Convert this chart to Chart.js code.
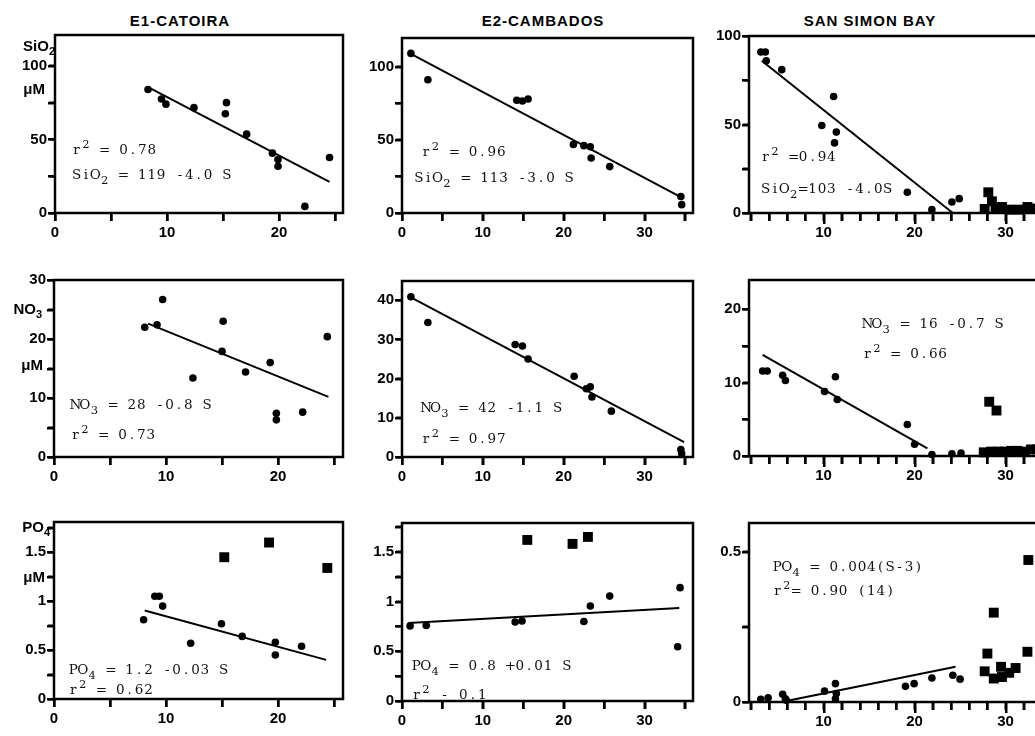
<!DOCTYPE html>
<html>
<head>
<meta charset="utf-8">
<script src="https://cdn.jsdelivr.net/npm/chart.js@4.4.0/dist/chart.umd.min.js"></script>
<style>
  html, body { margin: 0; background: #fff; overflow: hidden; width: 1035px; height: 736px; }
  body { position: relative; }
  canvas { position: absolute; }
  #ticks { left: 0; top: 0; z-index: 5; pointer-events: none; }
  .title { position: absolute; top: 12px; font: bold 15px "Liberation Sans", Arial, sans-serif; letter-spacing: 1px; transform: translateX(-50%); white-space: nowrap; color: #000; }
</style>
</head>
<body>
<div class="title" style="left:180px">E1-CATOIRA</div>
<div class="title" style="left:543px">E2-CAMBADOS</div>
<div class="title" style="left:870px">SAN SIMON BAY</div>
<canvas id="ticks" width="1035" height="736"></canvas>
<script>
// salinity (S) and concentration values

// E1-Catoira
const catSiS = [8.3, 9.5, 9.9, 12.4, 15.2, 15.3, 17.1, 19.4, 19.9, 19.9, 22.3, 24.5];
const catSiV = [84, 77.5, 74, 71.6, 67.5, 75, 53.6, 40.7, 36.4, 31.8, 4.5, 37.7];
const catSiFitS = [8.3, 24.5];
const catSiFitV = [85.5, 21.1];

const catNS = [8.1, 9.2, 9.7, 12.4, 15.1, 15.0, 17.1, 19.3, 19.85, 19.85, 22.2, 24.4];
const catNV = [22, 22.4, 26.7, 13.4, 23, 17.9, 14.4, 16, 7.4, 6.3, 7.6, 20.4];
const catNFitS = [8.4, 24.5];
const catNFitV = [22.6, 10.2];

const catPS = [8.0, 9.0, 9.4, 9.7, 12.2, 14.95, 16.8, 19.76, 19.76, 22.1];
const catPV = [0.81, 1.05, 1.05, 0.95, 0.57, 0.77, 0.64, 0.58, 0.45, 0.54];
const catPSqS = [15.2, 19.2, 24.4];
const catPSqV = [1.45, 1.6, 1.34];
const catPFitS = [8.1, 24.3];
const catPFitV = [0.905, 0.4];

// E2-Cambados
const camSiS = [1.1, 3.2, 14.2, 14.9, 15.6, 21.2, 22.5, 23.3, 23.4, 25.7, 34.5, 34.6];
const camSiV = [109, 91, 77, 76.5, 77.8, 46.8, 46, 45.2, 37.6, 31.7, 11.3, 5.7];
const camSiFitS = [1.1, 34.5];
const camSiFitV = [108.6, 10.9];

const camNS = [1.1, 3.2, 14.0, 14.9, 15.6, 21.3, 22.8, 23.3, 23.5, 25.9, 34.5, 34.6];
const camNV = [40.9, 34.3, 28.7, 28.3, 25, 20.6, 17.4, 17.9, 15.3, 11.7, 1.9, 0.9];
const camNFitS = [1.1, 34.9];
const camNFitV = [40.7, 3.8];

const camPS = [1.0, 3.0, 14.0, 14.85, 22.5, 23.3, 25.7, 34.1, 34.4];
const camPV = [0.755, 0.76, 0.795, 0.805, 0.8, 0.955, 1.055, 0.545, 1.14];
const camPSqS = [15.5, 21.1, 23.0];
const camPSqV = [1.62, 1.58, 1.65];
const camPFitS = [0.8, 34.3];
const camPFitV = [0.785, 0.935];

// San Simon Bay
const ssSiS = [3.1, 3.6, 3.7, 5.4, 9.8, 11.1, 11.2, 11.4, 19.2, 21.9, 24.1, 24.9];
const ssSiV = [91, 91, 86, 81, 49.4, 65.8, 39.6, 45.7, 11.7, 1.9, 6.2, 8.1];
const ssSiSqS = [27.7, 28.1, 28.5, 28.9, 29.6, 30.5, 31.5, 32.4, 33.1];
const ssSiSqV = [2.3, 11.7, 6.6, 2.3, 3.4, 1.9, 1.9, 3.4, 2.5];
const ssSiFitS = [3.2, 24.2];
const ssSiFitV = [86, 0];

const ssNS = [3.3, 3.8, 5.5, 5.8, 10.1, 11.3, 11.5, 19.2, 20.0, 21.9, 24.1, 25.1];
const ssNV = [11.6, 11.6, 11.0, 10.3, 8.8, 10.8, 7.7, 4.3, 1.6, 0.2, 0.3, 0.4];
const ssNSqS = [27.6, 28.2, 28.4, 29.0, 29.2, 29.9, 30.6, 31.3, 32.1, 32.8, 33.5];
const ssNSqV = [0.5, 7.4, 0.6, 6.2, 0.6, 0.6, 0.7, 0.7, 0.6, 0.9, 0.9];
const ssNFitS = [3.3, 21.4];
const ssNFitV = [13.8, 1.05];

const ssPS = [3.1, 3.9, 5.5, 5.8, 5.9, 10.1, 11.3, 11.4, 11.3, 19.0, 19.95, 21.9, 24.2, 25.0];
const ssPV = [0.009, 0.014, 0.026, 0.011, 0.006, 0.036, 0.061, 0.028, 0.011, 0.052, 0.061, 0.08, 0.089, 0.076];
const ssPSqS = [27.7, 28.0, 28.7, 28.7, 29.5, 29.6, 30.4, 31.1, 32.4, 32.5];
const ssPSqV = [0.102, 0.161, 0.297, 0.078, 0.117, 0.083, 0.097, 0.113, 0.167, 0.472];
const ssPFitS = [5.9, 24.5];
const ssPFitV = [0.003, 0.117];

// ticks (all marks) and the ones that carry a label
const catTicksX = [0, 5, 10, 15, 20, 25];
const catLabelsX = [0, 10, 20];
const camTicksX = [0, 5, 10, 15, 20, 25, 30, 35];
const camLabelsX = [0, 10, 20, 30];
const ssTicksX = [2, 4, 6, 8, 10, 12, 14, 16, 18, 20, 22, 24, 26, 28, 30, 32, 34];
const ssLabelsX = [10, 20, 30];

const siTicksY = [0, 25, 50, 75, 100];
const siLabelsY = [0, 50, 100];
const catNTicksY = [0, 5, 10, 15, 20, 25, 30];
const catNLabelsY = [0, 10, 20, 30];
const camNTicksY = [0, 10, 20, 30, 40];
const camNLabelsY = [0, 10, 20, 30, 40];
const ssNTicksY = [0, 5, 10, 15, 20];
const ssNLabelsY = [0, 10, 20];
const pTicksY = [0, 0.25, 0.5, 0.75, 1, 1.25, 1.5, 1.75];
const pLabelsY = [0, 0.5, 1, 1.5];
const ssPTicksY = [0, 0.25, 0.5];
const ssPLabelsY = [0, 0.5];

const zip = (a, b) => a.map((v, i) => ({ x: v, y: b[i] }));

const notesPlugin = {
    id: 'panelDecor',
    afterDraw(chart) {
        const p = chart.canvas.$panel;
        if (!p) return;
        const { ctx, chartArea: a, scales } = chart;
        ctx.save();
        ctx.strokeStyle = '#000';
        ctx.lineWidth = 2.5;
        ctx.strokeRect(a.left, a.top, a.right - a.left, a.bottom - a.top);

        // typewritten equations, fixed pitch
        ctx.fillStyle = '#111';
        ctx.textAlign = 'center';
        ctx.textBaseline = 'alphabetic';
        (p.notes || []).forEach(n => {
            let px = scales.x.getPixelForValue(n.at[0]);
            const py = scales.y.getPixelForValue(n.at[1]);
            for (let i = 0; i < n.text.length; i++) {
                let ch = n.text[i], dy = 0, size = 13.5;
                if (ch === '^' || ch === '_') {
                    dy = ch === '^' ? -6 : 5;
                    size = 11.5;
                    ch = n.text[++i];
                }
                ctx.font = size + 'px "DejaVu Serif", serif';
                ctx.fillText(ch, px + 4.7, py + dy);
                px += 9.4;
            }
        });

        // SiO2 / NO3 / PO4 and uM beside the y axis
        ctx.fillStyle = '#000';
        ctx.textAlign = 'right';
        ctx.textBaseline = 'middle';
        (p.units || []).forEach(u => {
            const [main, sub] = u.text.split('_');
            const right = a.left + u.dx;
            const cy = scales.y.getPixelForValue(u.at);
            let subW = 0;
            if (sub) {
                ctx.font = 'bold 11px "Liberation Sans", Arial, sans-serif';
                subW = ctx.measureText(sub).width;
                ctx.fillText(sub, right, cy + 5);
            }
            ctx.font = 'bold 15px "Liberation Sans", Arial, sans-serif';
            ctx.fillText(main, right - subW, cy);
        });
        ctx.restore();
    }
};

function axis(range, ticks, labels, dir) {
    return {
        type: 'linear',
        min: range[0],
        max: range[1],
        afterBuildTicks: s => { s.ticks = ticks.map(v => ({ value: v })); },
        afterFit: s => { if (dir === 'x') s.height = 30; else s.width = 50; },
        grid: { drawOnChartArea: false, drawTicks: true, tickLength: dir === 'x' ? 8 : 6, tickColor: '#000', tickWidth: 2 },
        border: { display: false },
        ticks: {
            autoSkip: false,
            maxRotation: 0,
            padding: dir === 'x' ? 3 : 2,
            color: '#000',
            font: { family: '"Liberation Sans", Arial, sans-serif', weight: 'bold', size: 15 },
            callback: v => labels.includes(v) ? String(v) : ''
        }
    };
}

const charts = [];

function makePanel(p) {
    const cv = document.createElement('canvas');
    cv.width = p.w + 58;
    cv.height = p.h + 42;
    cv.style.left = (p.left - 50) + 'px';
    cv.style.top = (p.top - 12) + 'px';
    cv.$panel = p;
    document.body.appendChild(cv);

    const datasets = [{
        data: zip(p.dots[0], p.dots[1]),
        pointStyle: 'circle', pointRadius: 3.8, pointHoverRadius: 3.8,
        backgroundColor: '#000', borderWidth: 0, clip: false
    }];
    if (p.boxes) {
        datasets.push({
            data: zip(p.boxes[0], p.boxes[1]),
            pointStyle: 'rect', pointRadius: 7, pointHoverRadius: 7,
            backgroundColor: '#000', borderWidth: 0, clip: false
        });
    }
    datasets.push({
        type: 'line',
        data: zip(p.fit[0], p.fit[1]),
        showLine: true, borderColor: '#000', borderWidth: 2,
        pointRadius: 0, fill: false, clip: false
    });

    charts.push(new Chart(cv, {
        type: 'scatter',
        data: { datasets },
        options: {
            responsive: false,
            animation: false,
            devicePixelRatio: 1,
            layout: { padding: { top: 12, right: 8, left: 0, bottom: 0 } },
            plugins: { legend: { display: false }, tooltip: { enabled: false } },
            scales: {
                x: axis(p.xr, p.xt, p.xl, 'x'),
                y: axis(p.yr, p.yt, p.yl, 'y')
            }
        },
        plugins: [notesPlugin]
    }));
}

// outward tick marks, placed with each chart's own scales on a page overlay
function drawTickMarks() {
    const over = document.getElementById('ticks');
    const ctx = over.getContext('2d');
    ctx.clearRect(0, 0, over.width, over.height);
    ctx.fillStyle = '#000';
    charts.forEach(chart => {
        const p = chart.canvas.$panel;
        const a = chart.chartArea;
        const ox = parseFloat(chart.canvas.style.left);
        const oy = parseFloat(chart.canvas.style.top);
        p.xt.forEach(v => {
            const px = Math.round(ox + chart.scales.x.getPixelForValue(v));
            const len = p.xl.includes(v) ? (p.xMajor || 8) : 8;
            ctx.fillRect(px - 1, oy + a.bottom, 2.5, len);
        });
        p.yt.forEach(v => {
            const py = Math.round(oy + chart.scales.y.getPixelForValue(v));
            ctx.fillRect(ox + a.left - 7, py - 1, 7, 2.5);
        });
    });
}

const panels = [
    { left: 55, top: 35, w: 288, h: 178, xr: [0, 25.7], yr: [0, 121],
      xt: catTicksX, xl: catLabelsX, yt: siTicksY, yl: siLabelsY,
      dots: [catSiS, catSiV], fit: [catSiFitS, catSiFitV],
      notes: [{ text: 'r^2 = 0.78', at: [1.5, 40] }, { text: 'SiO_2 = 119 -4.0 S', at: [1.5, 23.4] }],
      units: [{ text: 'SiO_2', at: 113, dx: 0 }, { text: 'μM', at: 83.6, dx: -10 }] },
    { left: 402, top: 38, w: 291, h: 175, xr: [0, 36], yr: [0, 119.5],
      xt: camTicksX, xl: camLabelsX, yt: siTicksY, yl: siLabelsY,
      dots: [camSiS, camSiV], fit: [camSiFitS, camSiFitV],
      notes: [{ text: 'r^2 = 0.96', at: [2.4, 38.6] }, { text: 'SiO_2 = 113 -3.0 S', at: [1.5, 21.5] }] },
    { left: 749, top: 36, w: 301, h: 177, xr: [1.8, 34.88], yr: [0, 100], xMajor: 11,
      xt: ssTicksX, xl: ssLabelsX, yt: siTicksY, yl: siLabelsY,
      dots: [ssSiS, ssSiV], boxes: [ssSiSqS, ssSiSqV], fit: [ssSiFitS, ssSiFitV],
      notes: [{ text: 'r^2 =0.94', at: [3.1, 29.5] }, { text: 'SiO_2=103 -4.0S', at: [3.1, 11.1] }] },

    { left: 54, top: 280, w: 289, h: 177, xr: [0, 25.8], yr: [0, 30],
      xt: catTicksX, xl: catLabelsX, yt: catNTicksY, yl: catNLabelsY,
      dots: [catNS, catNV], fit: [catNFitS, catNFitV],
      notes: [{ text: 'NO_3 = 28 -0.8 S', at: [1.5, 8.1] }, { text: 'r^2 = 0.73', at: [1.5, 3.0] }],
      units: [{ text: 'NO_3', at: 24.9, dx: -12 }, { text: 'μM', at: 15.4, dx: -11 }] },
    { left: 402, top: 281, w: 291, h: 176, xr: [0, 36], yr: [0, 44.9],
      xt: camTicksX, xl: camLabelsX, yt: camNTicksY, yl: camNLabelsY,
      dots: [camNS, camNV], fit: [camNFitS, camNFitV],
      notes: [{ text: 'NO_3 = 42 -1.1 S', at: [2.4, 11.6] }, { text: 'r^2 = 0.97', at: [2.4, 3.5] }] },
    { left: 749, top: 280, w: 301, h: 176, xr: [1.8, 34.88], yr: [0, 24], xMajor: 11,
      xt: ssTicksX, xl: ssLabelsX, yt: ssNTicksY, yl: ssNLabelsY,
      dots: [ssNS, ssNV], boxes: [ssNSqS, ssNSqV], fit: [ssNFitS, ssNFitV],
      notes: [{ text: 'NO_3 = 16 -0.7 S', at: [14.3, 17.5] }, { text: 'r^2 = 0.66', at: [14.3, 13.3] }] },

    { left: 54, top: 522, w: 289, h: 177, xr: [0, 25.8], yr: [0, 1.81],
      xt: catTicksX, xl: catLabelsX, yt: pTicksY, yl: pLabelsY,
      dots: [catPS, catPV], boxes: [catPSqS, catPSqV], fit: [catPFitS, catPFitV],
      notes: [{ text: 'PO_4 = 1.2 -0.03 S', at: [1.3, 0.255] }, { text: 'r^2 = 0.62', at: [1.3, 0.05] }],
      units: [{ text: 'PO_4', at: 1.75, dx: -4 }, { text: 'μM', at: 1.24, dx: -9 }] },
    { left: 402, top: 523, w: 291, h: 178, xr: [0, 36], yr: [0, 1.79],
      xt: camTicksX, xl: camLabelsX, yt: pTicksY, yl: pLabelsY,
      dots: [camPS, camPV], boxes: [camPSqS, camPSqV], fit: [camPFitS, camPFitV],
      notes: [{ text: 'PO_4 = 0.8 +0.01 S', at: [1.2, 0.31] }, { text: 'r^2 - 0.1', at: [1.2, 0.02] }] },
    { left: 749, top: 523, w: 301, h: 179, xr: [1.8, 34.88], yr: [0, 0.595], xMajor: 11,
      xt: ssTicksX, xl: ssLabelsX, yt: ssPTicksY, yl: ssPLabelsY,
      dots: [ssPS, ssPV], boxes: [ssPSqS, ssPSqV], fit: [ssPFitS, ssPFitV],
      notes: [{ text: 'PO_4 = 0.004(S-3)', at: [4.4, 0.434] }, { text: 'r^2= 0.90 (14)', at: [4.4, 0.357] }] }
];

panels.forEach(makePanel);
drawTickMarks();
setTimeout(drawTickMarks, 50);
</script>
</body>
</html>
